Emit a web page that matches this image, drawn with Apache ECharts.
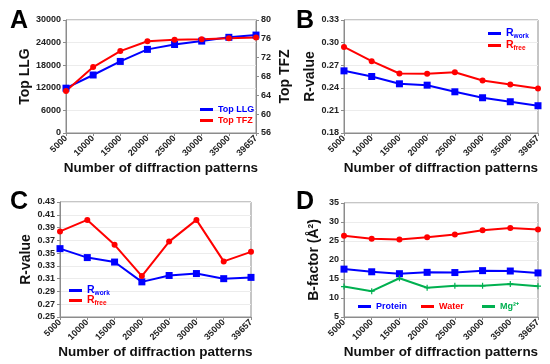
<!DOCTYPE html>
<html><head><meta charset="utf-8">
<script src="https://cdn.jsdelivr.net/npm/echarts@6/dist/echarts.min.js"></script>
<style>html,body{margin:0;padding:0;background:#fff}#c{width:550px;height:364px}</style>
</head><body><div id="c"></div>
<script>
const categories = ['5000','10000','15000','20000','25000','30000','35000','39657'];
// Panel A
const topLLG = [11900, 15400, 19000, 22200, 23500, 24400, 25400, 26000];
const topTFZ = [64.9, 70.0, 73.4, 75.5, 75.8, 75.9, 76.1, 76.3];
// Panel B
const rworkB = [0.2625, 0.255, 0.2453, 0.2435, 0.2347, 0.2268, 0.2215, 0.2162];
const rfreeB = [0.2942, 0.2753, 0.259, 0.2585, 0.2607, 0.2497, 0.2444, 0.2391];
// Panel C
const rworkC = [0.357, 0.343, 0.336, 0.305, 0.315, 0.318, 0.310, 0.312];
const rfreeC = [0.384, 0.402, 0.363, 0.314, 0.368, 0.402, 0.337, 0.352];
// Panel D
const protein = [17.6, 16.9, 16.4, 16.75, 16.7, 17.2, 17.1, 16.6];
const water = [26.4, 25.6, 25.4, 26.0, 26.7, 27.8, 28.4, 28.0];
const mg = [13.0, 11.8, 15.2, 12.7, 13.2, 13.2, 13.7, 13.1];

const FONT = 'Liberation Sans';
const BLUE = '#0000ff', RED = '#ff0000', GREEN = '#00b050';
const plusPath = 'path://M4,0L6,0L6,4L10,4L10,6L6,6L6,10L4,10L4,6L0,6L0,4L4,4Z';

const grids = [
  {left: 66, top: 20, width: 190, height: 113},
  {left: 344, top: 20, width: 194, height: 113},
  {left: 60, top: 202, width: 191, height: 115},
  {left: 344, top: 203, width: 194, height: 114}
].map(g => Object.assign({show: true, borderColor: '#8c8c8c', borderWidth: 1, containLabel: false}, g));

function xAxis(i){
  return {type:'category', gridIndex:i, data:categories, boundaryGap:false,
    axisLine:{lineStyle:{color:'#8c8c8c'}},
    axisTick:{alignWithLabel:true, length:3, lineStyle:{color:'#8c8c8c'}},
    axisLabel:{rotate:45, fontFamily:FONT, fontWeight:'bold', fontSize:9, color:'#222', margin:4, interval:0},
    name:'Number of diffraction patterns', nameLocation:'middle', nameGap:27,
    nameTextStyle:{fontFamily:FONT, fontWeight:'bold', fontSize:13.5, color:'#111'}};
}
const plain = v => String(v);
function yAxis(i, min, max, interval, name, gap, fmt, pos){
  return {type:'value', gridIndex:i, min, max, interval, position:pos||'left',
    axisLine:{show:true, lineStyle:{color:'#8c8c8c'}},
    axisTick:{show:true, length:3, lineStyle:{color:'#8c8c8c'}},
    splitLine:{show: pos!=='right', lineStyle:{color:'#ececec'}},
    axisLabel:{fontFamily:FONT, fontWeight:'bold', fontSize:9, color:'#222', margin:5, formatter:fmt||plain},
    name, nameLocation:'middle', nameGap:gap, nameRotate:90,
    nameTextStyle:{fontFamily:FONT, fontWeight:'bold', fontSize:14, color:'#111'}};
}
const f2 = v => v.toFixed(2);

function ser(name, data, xi, yi, color, symbol, size){
  return {name, type:'line', data, xAxisIndex:xi, yAxisIndex:yi,
    lineStyle:{color, width:2}, itemStyle:{color}, symbol, symbolSize:size, showSymbol:true, animation:false};
}

const rich = c => ({r:{color:c, fontFamily:FONT, fontWeight:'bold', fontSize:10.5},
                    s:{color:c, fontFamily:FONT, fontWeight:'bold', fontSize:6.5, padding:[5,0,0,0]}});

function leg(name, left, top, color, formatter, richObj){
  const ts = {color, fontFamily:FONT, fontWeight:'bold', fontSize:9};
  if (richObj) ts.rich = richObj;
  return {data:[name], left, top, itemWidth:13, itemHeight:3, icon:'rect', itemGap:0,
    selectedMode:false, padding:0, textStyle:ts, formatter: formatter || '{name}',
    itemStyle:{color}, lineStyle:{color}};
}

const option = {
  animation:false,
  title:[
    {text:'A', left:5, top:4},
    {text:'B', left:291, top:4},
    {text:'C', left:5, top:185},
    {text:'D', left:291, top:185}
  ].map(t => Object.assign(t, {textStyle:{fontFamily:FONT, fontWeight:'bold', fontSize:25, color:'#000'}})),
  grid: grids,
  xAxis:[xAxis(0), xAxis(1), xAxis(2), xAxis(3)],
  yAxis:[
    yAxis(0, 0, 30000, 6000, 'Top LLG', 32),
    yAxis(0, 56, 80, 4, 'Top TFZ', 22, null, 'right'),
    yAxis(1, 0.18, 0.33, 0.03, 'R-value', 26, f2),
    yAxis(2, 0.25, 0.43, 0.02, 'R-value', 27, f2),
    yAxis(3, 5, 35, 5, 'B-factor (Å²)', 23)
  ],
  legend:[
    leg('Top LLG', 200, 105, BLUE),
    leg('Top TFZ', 200, 116, RED),
    leg('Rwork B', 488, 28, BLUE, () => '{r|R}{s|work}', rich(BLUE)),
    leg('Rfree B', 488, 40, RED, () => '{r|R}{s|free}', rich(RED)),
    leg('Rwork C', 69, 285, BLUE, () => '{r|R}{s|work}', rich(BLUE)),
    leg('Rfree C', 69, 295, RED, () => '{r|R}{s|free}', rich(RED)),
    leg('Protein', 358, 302, BLUE),
    leg('Water', 421, 302, RED),
    leg('Mg²⁺', 482, 302, GREEN)
  ],
  series:[
    ser('Top LLG', topLLG, 0, 0, BLUE, 'rect', 7),
    ser('Top TFZ', topTFZ, 0, 1, RED, 'circle', 6),
    ser('Rwork B', rworkB, 1, 2, BLUE, 'rect', 7),
    ser('Rfree B', rfreeB, 1, 2, RED, 'circle', 6),
    ser('Rwork C', rworkC, 2, 3, BLUE, 'rect', 7),
    ser('Rfree C', rfreeC, 2, 3, RED, 'circle', 6),
    ser('Protein', protein, 3, 4, BLUE, 'rect', 7),
    ser('Water', water, 3, 4, RED, 'circle', 6),
    ser('Mg²⁺', mg, 3, 4, GREEN, plusPath, 6)
  ]
};
const chart = echarts.init(document.getElementById('c'), null, {renderer:'canvas'});
chart.setOption(option);
</script></body></html>
